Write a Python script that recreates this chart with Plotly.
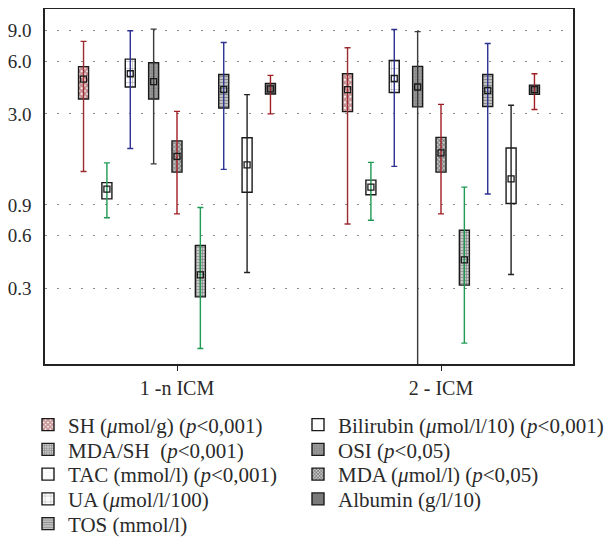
import plotly.graph_objects as go
import math

# ---------------- data ----------------
groups = ["1 -n ICM", "2 - ICM"]
y_tickvals = [0.3, 0.6, 0.9, 3.0, 6.0, 9.0]
y_ticktext = ["0.3", "0.6", "0.9", "3.0", "6.0", "9.0"]

# per series: whisker low, box low, mean, box high, whisker high (group 1, group 2)
SH_low = [1.40, 0.70];   SH_q1 = [3.65, 3.09];   SH_mean = [4.75, 4.13];   SH_q3 = [5.60, 5.10];   SH_high = [7.82, 7.19]
TAC_low = [0.76, 0.735]; TAC_q1 = [0.976, 1.03]; TAC_mean = [1.11, 1.14]; TAC_q3 = [1.21, 1.25]; TAC_high = [1.57, 1.58]
UA_low = [1.90, 1.50];   UA_q1 = [4.28, 3.98];   UA_mean = [5.10, 4.79];   UA_q3 = [6.19, 6.08];   UA_high = [9.0, 9.15]
OSI_low = [1.55, 0.05];  OSI_q1 = [3.65, 3.29];  OSI_mean = [4.59, 4.28];  OSI_q3 = [5.90, 5.62];  OSI_high = [9.2, 8.9]
MDA_low = [0.80, 0.80];  MDA_q1 = [1.39, 1.39];  MDA_mean = [1.71, 1.79];  MDA_q3 = [2.10, 2.20];  MDA_high = [3.10, 3.40]
MDASH_low = [0.135, 0.145]; MDASH_q1 = [0.267, 0.312]; MDASH_mean = [0.357, 0.436]; MDASH_q3 = [0.527, 0.644]; MDASH_high = [0.87, 1.14]
TOS_low = [1.44, 1.04];  TOS_q1 = [3.24, 3.31];  TOS_mean = [4.13, 4.09];  TOS_q3 = [5.05, 5.05];  TOS_high = [7.71, 7.61]
BIL_low = [0.369, 0.359]; BIL_q1 = [1.065, 0.917]; BIL_mean = [1.53, 1.27]; BIL_q3 = [2.19, 1.91]; BIL_high = [3.87, 3.36]
ALB_low = [3.00, 3.18];  ALB_q1 = [3.90, 3.88];  ALB_mean = [4.18, 4.13];  ALB_q3 = [4.49, 4.39];  ALB_high = [4.99, 5.10]

series_names = {
    "SH": "SH (<i>μ</i>mol/g) (<i>p</i>&lt;0,001)",
    "MDASH": "MDA/SH  (<i>p</i>&lt;0,001)",
    "TAC": "TAC (mmol/l) (<i>p</i>&lt;0,001)",
    "UA": "UA (<i>μ</i>mol/l/100)",
    "TOS": "TOS (mmol/l)",
    "BIL": "Bilirubin (<i>μ</i>mol/l/10) (<i>p</i>&lt;0,001)",
    "OSI": "OSI (<i>p</i>&lt;0,05)",
    "MDA": "MDA (<i>μ</i>mol/l) (<i>p</i>&lt;0,05)",
    "ALB": "Albumin (g/l/10)",
}

data = {
    "SH": (SH_low, SH_q1, SH_mean, SH_q3, SH_high),
    "TAC": (TAC_low, TAC_q1, TAC_mean, TAC_q3, TAC_high),
    "UA": (UA_low, UA_q1, UA_mean, UA_q3, UA_high),
    "OSI": (OSI_low, OSI_q1, OSI_mean, OSI_q3, OSI_high),
    "MDA": (MDA_low, MDA_q1, MDA_mean, MDA_q3, MDA_high),
    "MDASH": (MDASH_low, MDASH_q1, MDASH_mean, MDASH_q3, MDASH_high),
    "TOS": (TOS_low, TOS_q1, TOS_mean, TOS_q3, TOS_high),
    "BIL": (BIL_low, BIL_q1, BIL_mean, BIL_q3, BIL_high),
    "ALB": (ALB_low, ALB_q1, ALB_mean, ALB_q3, ALB_high),
}

# ---------------- styles / layout ----------------
position_order = ["SH", "TAC", "UA", "OSI", "MDA", "MDASH", "TOS", "BIL", "ALB"]
legend_columns = [["SH", "MDASH", "TAC", "UA", "TOS"], ["BIL", "OSI", "MDA", "ALB"]]

styles = {
    "SH":    dict(whisker="#9b2a30", fill="#ffffff", pattern=dict(shape="x", fgcolor="#8e1f25", bgcolor="#ffffff", size=4, solidity=0.75)),
    "TAC":   dict(whisker="#1f9a55", fill="#ffffff", pattern=dict(shape="+", fgcolor="#bbbbbb", bgcolor="#ffffff", size=4, solidity=0.15)),
    "UA":    dict(whisker="#2e3192", fill="#ffffff", pattern=dict(shape="+", fgcolor="#444444", bgcolor="#ffffff", size=7, solidity=0.15)),
    "OSI":   dict(whisker="#3a3a3a", fill="#8a8a8a", pattern=dict(shape=".", fgcolor="#6a6a6a", bgcolor="#9a9a9a", size=3, solidity=0.3)),
    "MDA":   dict(whisker="#a01d24", fill="#777777", pattern=dict(shape="x", fgcolor="#2a2a2a", bgcolor="#c8c8c8", size=3, solidity=0.55)),
    "MDASH": dict(whisker="#1f9a55", fill="#aaaaaa", pattern=dict(shape="+", fgcolor="#3a3a3a", bgcolor="#cccccc", size=3, solidity=0.4)),
    "TOS":   dict(whisker="#2e3192", fill="#aaaaaa", pattern=dict(shape="-", fgcolor="#4a4a4a", bgcolor="#cccccc", size=3, solidity=0.45)),
    "BIL":   dict(whisker="#222222", fill="#ffffff", pattern=None),
    "ALB":   dict(whisker="#a01d24", fill="#7a7a7a", pattern=None),
}

step = 0.0885
box_w = 0.038
FONT = "Liberation Serif, Times New Roman, serif"
TXT = "#2a2a2a"

# page body adds an 8px offset; figure sized to fit the window
W, H = 605, 535
legend_x_px = [20, 290]
row_y_px = [417, 441.75, 466.5, 491.25, 516]

def xpos(key):
    k = position_order.index(key)
    return [g + (k - 4) * step for g in range(len(groups))]

fig = go.Figure()
legend_layouts = {}
n = 0
for ci, keys in enumerate(legend_columns):
    for ri, key in enumerate(keys):
        n += 1
        lname = "legend" if n == 1 else f"legend{n}"
        low, q1, mean, q3, high = data[key]
        st = styles[key]
        marker = dict(color=st["fill"], line=dict(color="#1a1a1a", width=1.4))
        if st["pattern"]:
            marker["pattern"] = st["pattern"]
        fig.add_trace(go.Bar(
            x=xpos(key), base=q1, y=[b - a for a, b in zip(q1, q3)],
            width=box_w, marker=marker, name=series_names[key],
            legend=lname, showlegend=True, hoverinfo="skip",
        ))
        legend_layouts[lname] = dict(
            xref="container", yref="container",
            x=legend_x_px[ci] / W, y=1 - row_y_px[ri] / H,
            xanchor="left", yanchor="middle", orientation="v",
            font=dict(family=FONT, size=21, color=TXT),
            bgcolor="rgba(0,0,0,0)", itemwidth=30,
        )

# whiskers and mean markers
for key in position_order:
    low, q1, mean, q3, high = data[key]
    st = styles[key]
    fig.add_trace(go.Scatter(
        x=xpos(key), y=mean, mode="markers",
        marker=dict(symbol="square-open", size=6, color="#1a1a1a", line=dict(width=1.3)),
        error_y=dict(type="data", symmetric=False,
                     array=[h - m for h, m in zip(high, mean)],
                     arrayminus=[m - l for m, l in zip(mean, low)],
                     color=st["whisker"], thickness=1.4, width=3),
        showlegend=False, hoverinfo="skip",
    ))

fig.update_layout(
    width=W, height=H,
    margin=dict(l=37, r=40, t=1, b=179, autoexpand=False),
    paper_bgcolor="white", plot_bgcolor="white",
    barmode="overlay",
    font=dict(family=FONT, size=19, color=TXT),
    xaxis=dict(range=[-0.5, 1.5], tickvals=list(range(len(groups))), ticktext=groups,
               showgrid=False, zeroline=False, showline=True, linecolor="#222222", linewidth=1.5,
               mirror=True, ticks="outside", ticklen=5, tickcolor="#222222",
               tickfont=dict(family=FONT, size=20, color=TXT)),
    yaxis=dict(type="log", range=[math.log10(0.11), math.log10(12)],
               tickvals=y_tickvals, ticktext=y_ticktext,
               showgrid=True, gridcolor="#888888", gridwidth=1, griddash="2px,10px",
               zeroline=False, showline=True, linecolor="#222222", linewidth=1.5, mirror=True,
               ticks="", ticklabelstandoff=8, tickfont=dict(family=FONT, size=19, color=TXT)),
    **legend_layouts,
)

fig.write_html("out.html")
